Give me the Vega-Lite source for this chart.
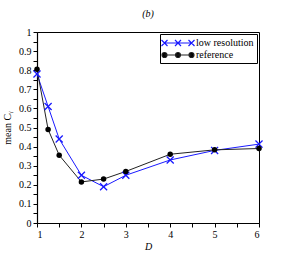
{
  "$schema": "https://vega.github.io/schema/vega-lite/v6.json",
  "width": 222,
  "height": 191,
  "autosize": {"type": "none"},
  "padding": {"left": 37, "top": 32, "right": 37, "bottom": 32},
  "title": {"text": "(b)", "font": "Liberation Serif", "fontSize": 10, "fontStyle": "italic", "fontWeight": "normal", "offset": 8, "anchor": "middle", "color": "black"},
  "config": {
    "view": {"stroke": "black", "strokeWidth": 1},
    "axis": {"grid": false, "domainColor": "black", "tickColor": "black", "labelColor": "black", "titleColor": "black", "labelFont": "Liberation Serif", "titleFont": "Liberation Serif", "labelFontSize": 10, "titleFontSize": 10, "titleFontWeight": "normal", "domainWidth": 1.2, "tickWidth": 1, "labelOverlap": false}
  },
  "data": {"values": [
    {"D": 1, "value": 0.78, "series": "low resolution"},
    {"D": 1.25, "value": 0.61, "series": "low resolution"},
    {"D": 1.5, "value": 0.44, "series": "low resolution"},
    {"D": 2, "value": 0.25, "series": "low resolution"},
    {"D": 2.5, "value": 0.19, "series": "low resolution"},
    {"D": 3, "value": 0.25, "series": "low resolution"},
    {"D": 4, "value": 0.33, "series": "low resolution"},
    {"D": 5, "value": 0.38, "series": "low resolution"},
    {"D": 6, "value": 0.413, "series": "low resolution"},
    {"D": 1, "value": 0.805, "series": "reference"},
    {"D": 1.25, "value": 0.49, "series": "reference"},
    {"D": 1.5, "value": 0.355, "series": "reference"},
    {"D": 2, "value": 0.215, "series": "reference"},
    {"D": 2.5, "value": 0.23, "series": "reference"},
    {"D": 3, "value": 0.27, "series": "reference"},
    {"D": 4, "value": 0.36, "series": "reference"},
    {"D": 5, "value": 0.383, "series": "reference"},
    {"D": 6, "value": 0.39, "series": "reference"}
  ]},
  "encoding": {
    "x": {"field": "D", "type": "quantitative", "scale": {"domain": [1, 6], "nice": false, "zero": false},
      "axis": {"title": "D", "titleFontStyle": "italic", "titlePadding": 2, "values": [1, 1.5, 2, 2.5, 3, 3.5, 4, 4.5, 5, 5.5, 6], "labelExpr": "datum.value % 1 == 0 ? format(datum.value, 'd') : ''", "tickSize": 4, "labelPadding": 2,
        "encode": {"ticks": {"update": {"y2": {"signal": "datum.value % 1 == 0 ? 4 : 2"}}}}}},
    "y": {"field": "value", "type": "quantitative", "scale": {"domain": [0, 1], "nice": false},
      "axis": {"title": "mean Cᵧ", "titlePadding": 6, "values": [0, 0.05, 0.1, 0.15, 0.2, 0.25, 0.3, 0.35, 0.4, 0.45, 0.5, 0.55, 0.6, 0.65, 0.7, 0.75, 0.8, 0.85, 0.9, 0.95, 1], "labelExpr": "abs(round(datum.value*10) - datum.value*10) < 0.01 ? format(datum.value, '~g') : ''", "tickSize": 4, "labelPadding": 2,
        "encode": {"ticks": {"update": {"x2": {"signal": "abs(round(datum.value*10) - datum.value*10) < 0.01 ? -4 : -2"}}}}}}
  },
  "layer": [
    {
      "mark": {"type": "line", "strokeWidth": 1},
      "encoding": {
        "color": {"field": "series", "type": "nominal",
          "scale": {"domain": ["low resolution", "reference"], "range": ["#1a1aff", "#222222"]},
          "legend": {"title": null, "orient": "top-right", "offset": 2, "strokeColor": "black", "padding": 3, "labelFont": "Liberation Serif", "labelFontSize": 10, "labelColor": "black", "symbolSize": 100, "symbolOffset": 9, "labelOffset": 12, "rowPadding": 0, "symbolStrokeWidth": 1.2,
            "encode": {"symbols": {"update": {
              "shape": {"signal": "datum.value == 'low resolution' ? 'M-2.7,0L2.7,0M-3.3,-0.6L-2.1,0.6M-3.3,0.6L-2.1,-0.6M-0.6,-0.6L0.6,0.6M-0.6,0.6L0.6,-0.6M2.1,-0.6L3.3,0.6M2.1,0.6L3.3,-0.6' : 'M-2.7,0L2.7,0M-2.2,0A0.5,0.5 0 1,0 -3.2,0A0.5,0.5 0 1,0 -2.2,0ZM0.5,0A0.5,0.5 0 1,0 -0.5,0A0.5,0.5 0 1,0 0.5,0ZM3.2,0A0.5,0.5 0 1,0 2.2,0A0.5,0.5 0 1,0 3.2,0Z'"},
              "fill": {"signal": "datum.value == 'reference' ? 'black' : 'transparent'"},
              "stroke": {"signal": "datum.value == 'reference' ? 'black' : '#1a1aff'"}
            }}}}
        }
      }
    },
    {
      "transform": [{"filter": "datum.series == 'low resolution'"}],
      "mark": {"type": "point", "shape": "M-1,-1L1,1M-1,1L1,-1", "filled": false, "size": 50, "strokeWidth": 1.3, "color": "#1a1aff", "opacity": 1},
      "encoding": {}
    },
    {
      "transform": [{"filter": "datum.series == 'reference'"}],
      "mark": {"type": "circle", "size": 30, "color": "black", "opacity": 1},
      "encoding": {}
    }
  ]
}
